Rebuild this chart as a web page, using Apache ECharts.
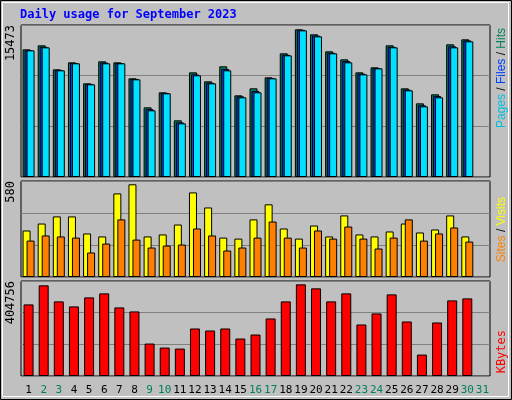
<!DOCTYPE html>
<html>
<head>
<meta charset="utf-8">
<script src="https://cdn.jsdelivr.net/npm/echarts@6/dist/echarts.min.js"></script>
<style>
html, body { margin: 0; padding: 0; background: #c0c0c0; }
#chart { width: 512px; height: 400px; }
</style>
</head>
<body>
<div id="chart"></div>
<script>
// 日期
var days = [];
for (var d = 1; d <= 31; d++) days.push(String(d));
var weekendDays = ['2', '3', '9', '10', '16', '17', '23', '24', '30', '31'];
// 上方: Hits / Files / Pages
var hits = [12996, 13403, 10960, 11672, 9535, 11774, 11672, 10044, 7092, 8618, 5768, 10654, 9738, 11265, 8313, 9026, 10145, 12589, 15032, 14522, 12792, 11978, 10654, 11163, 13403, 9026, 7499, 8415, 13504, 14013];
var files = [12900, 13250, 10900, 11600, 9480, 11650, 11600, 9990, 6900, 8560, 5560, 10450, 9600, 11000, 8200, 8750, 10080, 12450, 14980, 14400, 12650, 11800, 10520, 11100, 13250, 8900, 7300, 8250, 13300, 13900];
var pages = [12894, 13199, 10858, 11570, 9433, 11570, 11570, 9942, 6786, 8516, 5463, 10349, 9534, 10858, 8109, 8618, 10043, 12384, 14929, 14318, 12588, 11672, 10450, 11061, 13199, 8822, 7193, 8109, 13199, 13809];
// 中間: Visits / Sites
var visits = [281, 323, 366, 366, 263, 245, 505, 560, 245, 257, 317, 511, 420, 238, 232, 348, 439, 293, 232, 311, 245, 372, 257, 245, 275, 323, 269, 287, 372, 245];
var sites = [220, 251, 245, 238, 148, 202, 348, 226, 178, 190, 196, 293, 251, 160, 178, 238, 335, 238, 178, 281, 232, 305, 232, 172, 238, 348, 220, 263, 299, 214];
// 下方: KBytes
var kbytes = [304973, 386229, 317820, 296440, 334920, 352020, 292170, 275060, 138240, 121140, 116860, 202380, 193830, 202380, 159620, 176720, 245130, 317820, 390500, 373400, 317820, 352020, 219480, 266510, 347740, 232310, 91210, 228030, 322090, 330640];
// 軸上限
var maxHits = 15473, maxVisits = 580, maxKbytes = 404756;

var chart = echarts.init(document.getElementById('chart'));
var font = 'DejaVu Sans Mono';
var grids = [
    { left: 21, right: 22, top: 25, height: 152 },
    { left: 21, right: 22, top: 181, height: 96 },
    { left: 21, right: 22, top: 281, height: 95 }
];
grids.forEach(function (g) {
    g.show = true; g.backgroundColor = '#c0c0c0'; g.borderColor = '#000'; g.borderWidth = 1;
});
function yAx(i, max) {
    return {
        gridIndex: i, type: 'value', min: 0, max: max, interval: max / 3,
        axisLabel: { show: false }, axisLine: { show: false }, axisTick: { show: false },
        splitLine: { lineStyle: { color: '#808080', width: 1 } }
    };
}
function xAx(i, showLabel) {
    return {
        gridIndex: i, type: 'category', data: days,
        axisLine: { show: false }, axisTick: { show: false },
        axisLabel: {
            show: showLabel, interval: 0, margin: 9, fontFamily: font, fontSize: 11,
            formatter: function (v) { return weekendDays.indexOf(v) >= 0 ? '{w|' + v + '}' : '{n|' + v + '}'; },
            rich: { w: { color: '#00805f', fontFamily: font, fontSize: 11 }, n: { color: '#000', fontFamily: font, fontSize: 11 } }
        }
    };
}
function bar(name, data, xi, color, width, gap) {
    var s = {
        name: name, type: 'bar', xAxisIndex: xi, yAxisIndex: xi, data: data,
        barWidth: width, itemStyle: { color: color, borderColor: '#000', borderWidth: 1 },
        animation: false
    };
    if (gap) s.barGap = gap;
    return s;
}
var option = {
    backgroundColor: '#c0c0c0',
    animation: false,
    grid: grids,
    xAxis: [xAx(0, false), xAx(1, false), xAx(2, true)],
    yAxis: [yAx(0, maxHits), yAx(1, maxVisits), yAx(2, maxKbytes)],
    series: [
        bar('Hits', hits, 0, '#00805c', 8, '-75%'),
        bar('Files', files, 0, '#0040ff', 8, '-75%'),
        bar('Pages', pages, 0, '#00e0ff', 8, '-75%'),
        bar('Visits', visits, 1, '#ffff00', 8, '-50%'),
        bar('Sites', sites, 1, '#ff8000', 8, '-50%'),
        bar('KBytes', kbytes, 2, '#ff0000', 10)
    ],
    graphic: [
        { type: 'rect', shape: { x: 0.5, y: 0.5, width: 511, height: 399 }, style: { fill: null, stroke: '#000', lineWidth: 1 } },
        { type: 'rect', shape: { x: 2.5, y: 2.5, width: 506, height: 394 }, style: { fill: null, stroke: '#fff', lineWidth: 1 } },
        { type: 'text', x: 20, y: 9, style: { text: 'Daily usage for September 2023', fill: '#0000ff', fontFamily: font, fontSize: 12, fontWeight: 'bold' } },
        { type: 'text', x: 11, y: 25, rotation: Math.PI / 2, style: { text: String(maxHits), fill: '#000', fontFamily: font, fontSize: 12, align: 'right', verticalAlign: 'middle' } },
        { type: 'text', x: 11, y: 181, rotation: Math.PI / 2, style: { text: String(maxVisits), fill: '#000', fontFamily: font, fontSize: 12, align: 'right', verticalAlign: 'middle' } },
        { type: 'text', x: 11, y: 281, rotation: Math.PI / 2, style: { text: String(maxKbytes), fill: '#000', fontFamily: font, fontSize: 12, align: 'right', verticalAlign: 'middle' } },
        {
            type: 'text', x: 502, y: 28, rotation: Math.PI / 2,
            style: {
                text: '{p|Pages}{s| / }{f|Files}{s| / }{h|Hits}', fontFamily: font, fontSize: 12, align: 'right', verticalAlign: 'middle',
                rich: { p: { fill: '#00c0e0', fontSize: 12 }, f: { fill: '#0040ff', fontSize: 12 }, h: { fill: '#00805c', fontSize: 12 }, s: { fill: '#000', fontSize: 12 } }
            }
        },
        {
            type: 'text', x: 502, y: 197, rotation: Math.PI / 2,
            style: {
                text: '{a|Sites}{s| / }{b|Visits}', fontFamily: font, fontSize: 12, align: 'right', verticalAlign: 'middle',
                rich: { a: { fill: '#ff8000', fontSize: 12 }, b: { fill: '#ffff00', fontSize: 12 }, s: { fill: '#000', fontSize: 12 } }
            }
        },
        {
            type: 'text', x: 502, y: 330, rotation: Math.PI / 2,
            style: { text: 'KBytes', fill: '#ff0000', fontFamily: font, fontSize: 12, align: 'right', verticalAlign: 'middle' }
        }
    ]
};
chart.setOption(option);
</script>
</body>
</html>
